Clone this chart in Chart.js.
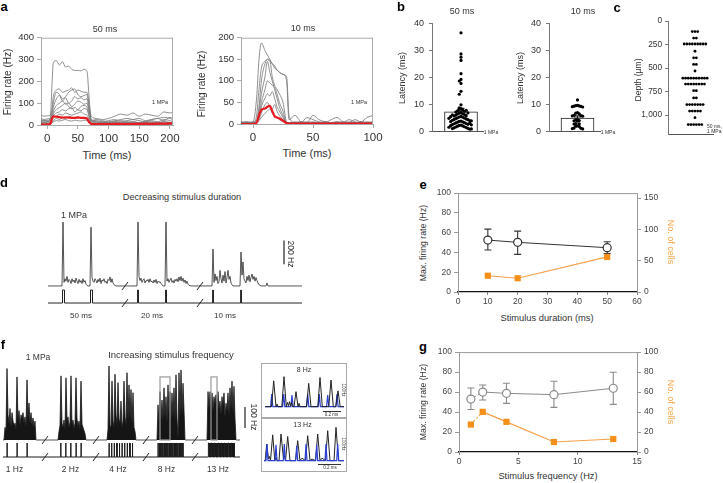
<!DOCTYPE html>
<html>
<head>
<meta charset="utf-8">
<script src="https://cdn.jsdelivr.net/npm/chart.js@4.4.1/dist/chart.umd.min.js"></script>
<style>
  html, body { margin: 0; padding: 0; background: #fff; }
  body { position: relative; width: 723px; height: 483px; overflow: hidden; font-family: "Liberation Sans", Arial, sans-serif; color: #333; }
  canvas { position: absolute; }
  .inset { position: absolute; border: 1.3px solid #a8a8a8; box-sizing: border-box; }
  .sbar { position: absolute; background: #333; height: 1px; }
</style>
</head>
<body>
<script>
// ---------- panel a: firing rate traces (Hz) ----------
const tA50 = [-10, -5, 0, 5, 8, 10, 15, 20, 25, 30, 35, 40, 45, 50, 55, 60, 65, 68, 72, 80, 90, 100, 110, 120, 130, 140, 150, 160, 170, 180, 190, 200, 205];
const cellsA50 = [
  [15, 18, 15, 30, 190, 285, 295, 275, 290, 265, 270, 255, 250, 250, 248, 255, 245, 140, 20, 15, 12, 10, 15, 10, 12, 15, 10, 8, 12, 10, 15, 10, 10],
  [45, 40, 42, 45, 80, 130, 160, 165, 150, 155, 160, 170, 150, 160, 155, 150, 150, 100, 40, 30, 25, 30, 40, 50, 45, 55, 40, 50, 45, 40, 60, 55, 60],
  [25, 20, 22, 25, 60, 100, 150, 140, 120, 130, 150, 160, 165, 140, 130, 135, 140, 90, 20, 15, 10, 12, 15, 20, 15, 10, 12, 15, 20, 15, 25, 20, 15],
  [30, 25, 28, 30, 50, 80, 120, 135, 110, 125, 100, 110, 130, 120, 125, 115, 120, 70, 25, 20, 15, 20, 25, 15, 20, 25, 30, 20, 25, 30, 20, 35, 30],
  [20, 22, 18, 20, 40, 60, 90, 100, 110, 95, 100, 85, 95, 110, 105, 95, 100, 60, 15, 10, 8, 10, 12, 8, 10, 15, 10, 12, 8, 10, 15, 12, 10],
  [15, 12, 15, 18, 30, 50, 70, 80, 90, 100, 85, 75, 80, 70, 85, 90, 80, 50, 10, 8, 12, 10, 8, 10, 12, 8, 10, 12, 15, 10, 8, 10, 12],
  [10, 12, 10, 12, 25, 40, 55, 60, 70, 65, 75, 80, 60, 70, 65, 75, 70, 40, 20, 25, 20, 15, 20, 25, 30, 25, 20, 15, 25, 30, 35, 30, 25],
  [8, 10, 8, 10, 20, 30, 40, 50, 45, 55, 50, 45, 50, 55, 60, 50, 45, 30, 5, 5, 8, 5, 3, 5, 8, 5, 3, 5, 8, 5, 3, 5, 5],
  [5, 5, 5, 8, 15, 20, 30, 25, 35, 30, 40, 35, 30, 38, 32, 30, 28, 15, 5, 3, 5, 8, 5, 3, 5, 3, 5, 8, 5, 3, 5, 8, 5],
  [3, 3, 5, 5, 10, 15, 20, 18, 22, 25, 20, 18, 22, 20, 18, 22, 20, 10, 3, 2, 3, 5, 3, 2, 3, 5, 3, 2, 3, 5, 3, 2, 3]
];
const meanA50 = [2, 2, 2, 5, 30, 40, 38, 36, 34, 35, 34, 33, 33, 34, 33, 33, 30, 15, 5, 4, 4, 4, 5, 5, 4, 5, 5, 6, 5, 6, 6, 7, 7];

const tA10 = [-10, -5, 0, 3, 5, 7, 10, 12, 14, 16, 18, 20, 22, 25, 28, 30, 35, 40, 45, 50, 55, 60, 65, 70, 75, 80, 85, 90, 95, 100];
const cellsA10 = [
  [5, 3, 5, 60, 150, 188, 170, 160, 150, 140, 130, 125, 120, 115, 100, 10, 20, 5, 3, 5, 3, 5, 3, 3, 5, 3, 3, 5, 3, 5],
  [3, 5, 3, 20, 80, 130, 145, 150, 145, 140, 135, 125, 120, 115, 110, 20, 3, 5, 3, 20, 10, 5, 3, 5, 3, 10, 5, 3, 5, 3],
  [3, 3, 5, 10, 40, 100, 140, 150, 148, 110, 90, 80, 70, 50, 5, 3, 5, 3, 15, 10, 5, 3, 10, 15, 5, 3, 10, 5, 15, 20],
  [5, 3, 3, 5, 30, 70, 110, 145, 120, 100, 80, 60, 40, 20, 3, 3, 3, 3, 3, 3, 3, 3, 3, 3, 3, 3, 3, 3, 3, 3],
  [3, 3, 3, 5, 20, 50, 80, 100, 95, 90, 85, 70, 50, 30, 3, 3, 3, 5, 3, 3, 3, 5, 3, 3, 3, 5, 3, 3, 3, 5],
  [3, 5, 3, 5, 15, 40, 60, 70, 65, 75, 60, 40, 30, 15, 3, 3, 3, 3, 5, 3, 3, 3, 3, 5, 3, 3, 3, 5, 3, 3],
  [3, 3, 3, 3, 10, 25, 45, 50, 40, 35, 45, 30, 20, 10, 3, 3, 3, 3, 3, 3, 3, 3, 3, 3, 3, 3, 3, 3, 3, 3],
  [2, 2, 2, 3, 8, 15, 25, 30, 35, 25, 20, 15, 10, 5, 2, 2, 2, 2, 2, 2, 2, 2, 2, 2, 2, 2, 2, 2, 2, 2]
];
const meanA10 = [0, 0, 0, 3, 20, 33, 36, 40, 42, 30, 18, 15, 13, 8, 2, 1, 1, 1, 1, 1, 1, 1, 1, 1, 1, 1, 1, 1, 1, 1];

// ---------- panel b: latency (ms) ----------
const lat50 = [36.5, 28.7, 27.5, 26.3, 21.4, 19.3, 18.7, 17.8, 14.9, 13.8, 9.9, 8.8, 8.5, 8.2, 8.0, 7.7, 7.5, 7.2, 7.0, 6.8,
  6.6, 6.5, 6.3, 6.1, 5.9, 5.8, 5.6, 5.4, 5.3, 5.1, 5.0, 4.8, 4.7, 4.5, 4.4, 4.2, 4.1, 3.9, 3.8, 3.6, 3.5, 3.3, 3.2, 3.0,
  2.9, 2.7, 2.6, 2.4, 2.3, 2.1, 2.0, 1.8, 1.7, 1.5, 1.4, 1.2, 1.1, 0.9, 6.9, 5.5, 4.0, 3.1, 2.2, 1.0, 7.9, 6.2, 4.9, 3.7, 2.5, 1.6];
const lat50Mean = 7.3, lat50Sem = 1.3;
const lat10 = [11.7, 9.7, 9.6, 9.5, 9.4, 9.3, 9.2, 9.1, 7.0, 6.8, 6.6, 6.0, 5.9, 5.8, 5.7, 4.4, 4.3, 4.1, 4.0, 3.9, 3.0, 2.9, 2.8, 2.1, 2.0, 1.9, 1.3, 1.2, 1.1, 1.0];
const lat10Mean = 5.0, lat10Sem = 0.8;

// ---------- panel c: recording depth (µm) ----------
const depthRows = [112, 181, 244, 321, 391, 461, 531, 607, 670, 740, 817, 887, 956, 1026, 1100];
const depthCounts = [3, 2, 9, 1, 2, 2, 1, 10, 8, 2, 2, 7, 5, 1, 6];
const depthTicks = [0, 250, 500, 750, 1000];

// ---------- panel d: example unit, decreasing duration ----------
const burstStartD = [15, 43, 90, 118, 165, 193];
const burstsD = [
  [533, 30, 60, 40, 80, 30, 55, 45, 20, 60, 35, 50, 25, 65, 40, 20, 55, 30, 45, 20, 60, 30, 45, 15, 5],
  [490, 70, 40, 30, 60, 45, 25, 55, 35, 65, 20, 50, 40, 60, 30, 40, 20, 55, 45, 75, 30, 60, 25, 10, 5],
  [533, 80, 45, 65, 30, 50, 60, 25, 45, 40, 55, 30, 60, 35, 40, 25, 50, 30, 55, 20, 40, 30, 35, 20, 10],
  [533, 40, 60, 30, 50, 65, 30, 45, 25, 55, 40, 60, 35, 75, 45, 80, 40, 65, 30, 50, 20, 40, 15, 5, 3],
  [308, 30, 100, 45, 80, 20, 35, 130, 60, 25, 90, 40, 120, 25, 70, 130, 55, 80, 25, 10],
  [283, 90, 200, 60, 40, 25, 80, 45, 90, 35, 70, 100, 55, 80, 40, 70, 45, 25, 10, 5, 0, 0, 0, 0, 0, 0, 25]
];
const stimOnD = [14.5, 42.5, 89.6, 117.6, 164.8, 192.8];
const stimDurD = [2, 2, 0.8, 0.8, 0.4, 0.4];
const breaksD = [77, 152];

// ---------- panel e ----------
const durE = [10, 20, 50];
const rateE = [52.5, 50.2, 44.8];
const rateLoE = [42.4, 38, 39];
const rateHiE = [63.6, 61.6, 50.8];
const cellsE = [26, 22, 56];

// ---------- panel f: example unit, increasing frequency ----------
const burstStartF = [5, 59, 108, 158, 208];
const burstsF = [
  [60, 40, 340, 120, 80, 150, 60, 130, 90, 70, 80, 50, 300, 90, 140, 70, 120, 100, 130, 80, 110, 60, 286, 100, 176, 80, 130, 70, 105, 60, 90],
  [40, 70, 305, 80, 60, 95, 50, 296, 90, 110, 60, 85, 305, 70, 95, 55, 80, 296, 100, 65, 90, 50, 280, 75, 60, 45, 30],
  [50, 352, 70, 60, 280, 90, 60, 313, 120, 70, 273, 100, 80, 185, 60, 90, 280, 110, 70, 320, 90, 262, 100, 240, 75, 225, 60, 40],
  [167, 80, 230, 100, 190, 90, 248, 110, 206, 85, 262, 120, 230, 95, 224, 110, 248, 90, 310, 100, 10, 320, 105, 333, 120, 270, 143],
  [230, 150, 230, 160, 224, 140, 206, 170, 215, 130, 230, 150, 185, 120, 206, 160, 224, 110, 175, 140, 224, 120, 248, 150, 280, 130, 255, 100]
];
const stimF = [7, 17, 27,
  60.7, 65.7, 70.7, 76, 81,
  109, 111.6, 114.2, 116.8, 119.4, 122, 124.6, 127.2, 129.8, 132.4,
  158, 159.3, 160.5, 161.8, 163, 164.3, 165.5, 166.8, 168, 169.3, 170.5, 171.8, 173, 174.3, 175.5, 176.8, 178, 179.3, 180.5, 181.8, 183,
  208, 208.8, 209.5, 210.3, 211.1, 211.8, 212.6, 213.4, 214.2, 214.9, 215.7, 216.5, 217.2, 218, 218.8, 219.5, 220.3, 221.1, 221.8,
  222.6, 223.4, 224.2, 224.9, 225.7, 226.5, 227.2, 228, 228.8, 229.5, 230.3, 231.1, 231.8, 232.6, 233.4, 234.2];
const stimDurF = 0.2;
const breaksF = [45, 96, 146, 195];
const windowsF = [[160, 170], [211, 217]];
const windowTopF = 300;

// insets (time in trace units, rate in Hz)
const i8BlackT = [2, 8.5, 10.7, 13, 14, 15, 18.8, 21, 23.3, 24.5, 25.5, 26.5, 27.5, 28.5, 29.5, 31, 33, 35, 36, 37, 43.5, 45.7, 48, 54.8, 57, 59.3, 65.8, 68, 70.3, 72.8, 75, 77.2, 81];
const i8BlackV = [0, 0, 155, 0, 15, 0, 0, 180, 0, 25, 5, 30, 5, 25, 0, 0, 90, 0, 20, 0, 0, 140, 0, 0, 175, 0, 0, 160, 0, 0, 95, 0, 0];
const i8BlueT = [2, 7.6, 8.7, 9.8, 19.6, 20.7, 21.8, 27.9, 29, 30.1, 43.6, 44.7, 45.8, 55.2, 56.3, 57.4, 63.6, 64.7, 65.8, 72.9, 74, 75.1, 81];
const i8BlueV = [0, 0, 75, 0, 0, 75, 0, 0, 70, 0, 0, 75, 0, 0, 75, 0, 0, 70, 0, 0, 75, 0, 0];
const i13BlackT = [1, 2.2, 3.7, 5.5, 6.5, 7.5, 9.7, 11.8, 13, 14, 16, 18, 20.5, 21.5, 22.5, 24.7, 27, 29, 32.5, 34.7, 37, 39, 42.5, 44.7, 47, 49, 52.5, 54.7, 57, 59, 62.5, 64.7, 67, 69, 71, 73, 75.5, 81];
const i13BlackV = [0, 0, 100, 10, 25, 0, 155, 0, 20, 0, 0, 160, 10, 30, 0, 145, 0, 0, 0, 120, 0, 15, 0, 150, 0, 10, 0, 160, 0, 15, 0, 180, 0, 0, 0, 200, 0, 0];
const i13BlueT = [1, 3, 4, 5, 12, 13, 14, 20.3, 21.3, 22.3, 32.7, 33.7, 34.7, 42, 43, 44, 52.7, 53.7, 54.7, 62, 63, 64, 73.7, 74.7, 75.7, 81];
const i13BlueV = [0, 0, 100, 0, 0, 95, 0, 0, 100, 0, 0, 90, 0, 0, 100, 0, 0, 95, 0, 0, 100, 0, 0, 100, 0, 0];

// ---------- panel g ----------
const freqG = [1, 2, 4, 8, 13];
const rateG = [53, 60, 58.7, 57.4, 63.8];
const rateLoG = [42.6, 52, 48.7, 44.7, 47.7];
const rateHiG = [64, 67, 68.8, 70.8, 79.9];
const cellsG = [27.5, 40.2, 30.2, 10, 13];

// ---------- colours ----------
const GREY_TRACE = 'rgba(125,125,125,0.85)';
const RED = '#e8191f';
const ORANGE = '#f5901c';
const ORANGE_TXT = '#f4a340';
const BLUE = '#2b3fd6';

Chart.defaults.font.family = '"Liberation Sans", Arial, sans-serif';
Chart.defaults.color = '#333';

// error bars, drawn under the markers
Chart.register({
  id: 'errbars',
  beforeDatasetsDraw(chart) {
    const ctx = chart.ctx;
    chart.data.datasets.forEach((ds, i) => {
      if (!ds.errHi) return;
      const meta = chart.getDatasetMeta(i);
      const sx = chart.scales[meta.xAxisID], sy = chart.scales[meta.yAxisID];
      const cap = ds.errCap || 3;
      ctx.save();
      ctx.strokeStyle = ds.errColor || '#333';
      ctx.lineWidth = 1.1;
      ds.data.forEach((p, j) => {
        const px = sx.getPixelForValue(p.x);
        const lo = sy.getPixelForValue(ds.errLo[j]), hi = sy.getPixelForValue(ds.errHi[j]);
        ctx.beginPath();
        ctx.moveTo(px, lo); ctx.lineTo(px, hi);
        ctx.moveTo(px - cap, lo); ctx.lineTo(px + cap, lo);
        ctx.moveTo(px - cap, hi); ctx.lineTo(px + cap, hi);
        ctx.stroke();
      });
      ctx.restore();
    });
  }
});

function framePlugin(color, sides) {
  return {
    id: 'frame',
    afterDraw(c) {
      const a = c.chartArea, x = c.ctx;
      x.save(); x.strokeStyle = color; x.lineWidth = 1; x.beginPath();
      if (sides.includes('t')) { x.moveTo(a.left, a.top + 0.5); x.lineTo(a.right, a.top + 0.5); }
      if (sides.includes('r')) { x.moveTo(a.right - 0.5, a.top); x.lineTo(a.right - 0.5, a.bottom); }
      x.stroke(); x.restore();
    }
  };
}

function breakPlugin(xs, yv) {
  return {
    id: 'breaks',
    afterDatasetsDraw(c) {
      const ctx = c.ctx, sx = c.scales.x, sy = c.scales.y;
      ctx.save(); ctx.strokeStyle = '#222'; ctx.lineWidth = 1;
      xs.forEach(b => {
        const px = sx.getPixelForValue(b), py = sy.getPixelForValue(yv);
        ctx.beginPath(); ctx.moveTo(px - 3, py + 4); ctx.lineTo(px + 3, py - 4); ctx.stroke();
      });
      ctx.restore();
    }
  };
}

function scaleBarPlugin(xv, y0, len) {
  return {
    id: 'scalebar',
    afterDatasetsDraw(c) {
      const ctx = c.ctx, px = c.scales.x.getPixelForValue(xv);
      ctx.save(); ctx.strokeStyle = '#222'; ctx.lineWidth = 1.2; ctx.beginPath();
      ctx.moveTo(px, c.scales.y.getPixelForValue(y0));
      ctx.lineTo(px, c.scales.y.getPixelForValue(y0 + len));
      ctx.stroke(); ctx.restore();
    }
  };
}

function windowPlugin(spans, top) {
  return {
    id: 'windows',
    afterDatasetsDraw(c) {
      const ctx = c.ctx, sx = c.scales.x, sy = c.scales.y;
      ctx.save(); ctx.strokeStyle = '#9a9a9a'; ctx.lineWidth = 1.2;
      spans.forEach(([a, b]) => {
        const x0 = sx.getPixelForValue(a), x1 = sx.getPixelForValue(b);
        const y0 = sy.getPixelForValue(0), y1 = sy.getPixelForValue(top);
        ctx.strokeRect(x0, y1, x1 - x0, y0 - y1);
      });
      ctx.restore();
    }
  };
}

// put a chart so that its plot area lands on plot = [left, top, right, bottom]
function mk(plot, m, cfg) {
  const [L, T, R, B] = plot;
  const cv = document.createElement('canvas');
  const w = R - L + m.l + m.r, h = B - T + m.t + m.b;
  cv.width = w; cv.height = h;
  cv.style.left = (L - m.l) + 'px';
  cv.style.top = (T - m.t) + 'px';
  document.body.appendChild(cv);
  const o = cfg.options = cfg.options || {};
  o.responsive = false; o.animation = false; o.events = [];
  o.layout = { autoPadding: false, padding: { top: m.t, left: 0, bottom: 0, right: 0 } };
  let hasRight = false;
  for (const [id, s] of Object.entries(o.scales)) {
    const pos = s.position || (id.startsWith('x') ? 'bottom' : 'left');
    s.position = pos;
    if (pos === 'right') hasRight = true;
    s.afterFit = sc => {
      if (pos === 'bottom') sc.height = m.b;
      else if (pos === 'left') sc.width = m.l;
      else if (pos === 'right') sc.width = m.r;
    };
  }
  if (!hasRight) o.layout.padding.right = m.r;
  o.plugins = Object.assign({ legend: { display: false }, tooltip: { enabled: false } }, o.plugins || {});
  return new Chart(cv.getContext('2d'), cfg);
}

function pts(xs, ys) { return xs.map((x, i) => ({ x, y: ys[i] })); }
function trace(xs, ys, color, width, extra) {
  return Object.assign({ data: pts(xs, ys), borderColor: color, borderWidth: width, pointRadius: 0, fill: false, cubicInterpolationMode: 'monotone' }, extra || {});
}
function swarm(vals, rowH, gap) {
  const seen = {};
  return vals.map(v => {
    const k = Math.round(v / rowH);
    const n = seen[k] = (seen[k] || 0) + 1;
    return { x: (n % 2 ? 1 : -1) * Math.floor(n / 2) * gap, y: v };
  });
}
function burstTrace(starts, bursts, x0, x1) {
  const p = [{ x: x0, y: 0 }];
  starts.forEach((s, i) => {
    p.push({ x: s - 1, y: 0 });
    bursts[i].forEach((v, j) => p.push({ x: s + j, y: v }));
    p.push({ x: s + bursts[i].length, y: 0 });
  });
  p.push({ x: x1, y: 0 });
  return p;
}
function pulseTrace(ons, durs, x0, x1) {
  const p = [{ x: x0, y: 0 }];
  ons.forEach((t, i) => {
    const d = Array.isArray(durs) ? durs[i] : durs;
    p.push({ x: t, y: 0 }, { x: t, y: 1 }, { x: t + d, y: 1 }, { x: t + d, y: 0 });
  });
  p.push({ x: x1, y: 0 });
  return p;
}
function txt(s, x, y, size, o) {
  o = o || {};
  const d = document.createElement('div');
  d.textContent = s;
  d.style.cssText = 'position:absolute;left:' + x + 'px;top:' + y + 'px;font-size:' + size + 'px;line-height:1;white-space:nowrap;' +
    'color:' + (o.color || '#333') + ';font-weight:' + (o.bold ? 'bold' : 'normal') + ';' +
    'transform:translate(' + (o.left ? '0' : '-50%') + ',-50%) rotate(' + (o.rot || 0) + 'deg)';
  document.body.appendChild(d);
}
const tickFont = s => ({ size: s });
const hidden = { display: false };

// ---------- a ----------
function panelA(plot, xs, cells, mean, xmin, xmax, ymax, ystep) {
  mk(plot, { l: 42, t: 8, r: 14, b: 22 }, {
    type: 'line',
    data: { datasets: [
      ...cells.map(c => trace(xs, c, GREY_TRACE, 1, { order: 1 })),
      trace(xs, mean, RED, 2.2, { order: 0 })
    ] },
    options: { scales: {
      x: { type: 'linear', min: xmin, max: xmax, ticks: { stepSize: 50, includeBounds: false, font: tickFont(11.5), padding: 3 },
           grid: { drawOnChartArea: false, tickLength: 4, color: '#aaa' }, border: { color: '#aaa' } },
      y: { min: 0, max: ymax, ticks: { stepSize: ystep, font: tickFont(9.5), padding: 3 },
           grid: { drawOnChartArea: false, tickLength: 4, color: '#aaa' }, border: { color: '#aaa' } }
    } },
    plugins: [framePlugin('#aaa', 'tr')]
  });
}
panelA([41, 37, 173, 125], tA50, cellsA50, meanA50, -10, 205, 400, 100);
panelA([241, 37, 373, 124], tA10, cellsA10, meanA10, -10, 100, 200, 50);

// ---------- b ----------
function panelB(plot, vals, mean, sem, xmin, xmax) {
  mk(plot, { l: 28, t: 8, r: 4, b: 7 }, {
    type: 'scatter',
    data: { datasets: [
      { type: 'bar', data: [{ x: 0, y: mean }], barThickness: 33, backgroundColor: '#fff', borderColor: '#222', borderWidth: 1,
        errLo: [mean], errHi: [mean + sem], errCap: 3.5, errColor: '#222', order: 2 },
      { data: swarm(vals, 1.6, 1.15), pointRadius: 1.6, pointBackgroundColor: '#000', pointBorderWidth: 0, order: 1 }
    ] },
    options: { scales: {
      x: { type: 'linear', min: xmin, max: xmax, ticks: hidden, grid: hidden, border: { color: '#555' } },
      y: { min: 0, max: 40, ticks: { stepSize: 10, font: tickFont(9), padding: 5 },
           grid: { drawOnChartArea: false, tickLength: 3, color: '#777' }, border: { color: '#777' } }
    } }
  });
}
panelB([432, 21, 483, 135], lat50, lat50Mean, lat50Sem, -10.83, 6.17);
panelB([549, 21, 600, 135], lat10, lat10Mean, lat10Sem, -10.5, 6.5);

// ---------- c ----------
const depthPts = [];
depthRows.forEach((d, i) => {
  for (let k = 0; k < depthCounts[i]; k++) depthPts.push({ x: k - (depthCounts[i] - 1) / 2, y: d });
});
mk([668, 21, 713, 135], { l: 30, t: 8, r: 8, b: 7 }, {
  type: 'scatter',
  data: { datasets: [{ data: depthPts, pointRadius: 1.4, pointBackgroundColor: '#000', pointBorderWidth: 0 }] },
  options: { scales: {
    x: { type: 'linear', min: -10, max: 6.67, ticks: hidden, grid: hidden, border: { color: '#555' } },
    y: { min: 0, max: 1200, reverse: true, afterBuildTicks: s => { s.ticks = depthTicks.map(v => ({ value: v })); },
         ticks: { font: tickFont(8.3), padding: 3, callback: v => v.toLocaleString('en-US') },
         grid: { drawOnChartArea: false, tickLength: 3, color: '#777' }, border: { color: '#777' } }
  } }
});

// ---------- d ----------
mk([48, 214, 302, 288], { l: 2, t: 2, r: 4, b: 2 }, {
  type: 'line',
  data: { datasets: [{ data: burstTrace(burstStartD, burstsD, 0, 254), borderColor: '#2a2a2a', borderWidth: 0.8, pointRadius: 0 }] },
  options: { scales: { x: { type: 'linear', min: 0, max: 254, display: false }, y: { min: -17, max: 600, display: false } } },
  plugins: [breakPlugin(breaksD, 0), scaleBarPlugin(236, 180, 200)]
});
mk([48, 288, 302, 306], { l: 2, t: 2, r: 4, b: 4 }, {
  type: 'line',
  data: { datasets: [{ data: pulseTrace(stimOnD, stimDurD, 0, 254), borderColor: '#222', borderWidth: 1, pointRadius: 0 }] },
  options: { scales: { x: { type: 'linear', min: 0, max: 254, display: false }, y: { min: -0.23, max: 1.154, display: false } } },
  plugins: [breakPlugin(breaksD, 0)]
});

// ---------- e / g ----------
function panelDual(plot, xs, rate, lo, hi, cells, xmax, xstep, y1max, y1step, dotted, rateColor) {
  const dash = dotted ? { borderDash: c => c.p0DataIndex === 0 ? [2, 2] : undefined } : {};
  mk(plot, { l: 26, t: 8, r: 24, b: 18 }, {
    type: 'line',
    data: { datasets: [
      { data: pts(xs, rate), errLo: lo, errHi: hi, errCap: 3.5, errColor: rateColor, borderColor: rateColor, borderWidth: 1,
        pointStyle: 'circle', pointRadius: 4, pointBackgroundColor: '#fff', pointBorderColor: rateColor, pointBorderWidth: 1.2,
        yAxisID: 'y', order: 0, segment: dash },
      { data: pts(xs, cells), borderColor: '#f5a04a', borderWidth: 1.2, pointStyle: 'rect', pointRadius: 4.4,
        pointBackgroundColor: ORANGE, pointBorderWidth: 0, yAxisID: 'y1', order: 1, segment: dash }
    ] },
    options: { scales: {
      x: { type: 'linear', min: 0, max: xmax, ticks: { stepSize: xstep, font: tickFont(8.5), padding: 2, color: '#444' },
           grid: { drawOnChartArea: false, tickLength: 3, color: '#888' }, border: { color: '#111', dash: [1.5, 2], width: 1.2 } },
      y: { position: 'left', min: 0, max: 100, ticks: { stepSize: 20, font: tickFont(8.5), padding: 3, color: '#444' },
           grid: { drawOnChartArea: false, tickLength: 4, color: '#999' }, border: { color: '#999' } },
      y1: { position: 'right', min: 0, max: y1max, ticks: { stepSize: y1step, includeBounds: false, font: tickFont(8.5), padding: 3, color: '#444' },
            grid: { drawOnChartArea: false, tickLength: 4, color: '#999' }, border: { color: '#999' } }
    } },
    plugins: [framePlugin('#999', 't')]
  });
}
panelDual([458, 193, 637, 292], durE, rateE, rateLoE, rateHiE, cellsE, 60, 10, 158, 50, false, '#333');
panelDual([459, 352, 637, 452], freqG, rateG, rateLoG, rateHiG, cellsG, 15, 5, 100, 20, true, '#8a8a8a');

// ---------- f ----------
mk([0, 362, 250, 442], { l: 0, t: 2, r: 4, b: 2 }, {
  type: 'line',
  data: { datasets: [{ data: burstTrace(burstStartF, burstsF, 3, 240), borderColor: '#151515', borderWidth: 0.8, pointRadius: 0,
    fill: 'origin', backgroundColor: '#151515',
    segment: { borderColor: c => (c.p0.parsed.y === 0 && c.p1.parsed.y === 0) ? '#8c8c8c' : undefined,
               borderWidth: c => (c.p0.parsed.y === 0 && c.p1.parsed.y === 0) ? 1.5 : undefined } }] },
  options: { scales: { x: { type: 'linear', min: 0, max: 250, display: false }, y: { min: -9.5, max: 371, display: false } } },
  plugins: [breakPlugin(breaksF, 0), windowPlugin(windowsF, windowTopF), scaleBarPlugin(245, 57, 100)]
});
mk([0, 441, 250, 460], { l: 0, t: 2, r: 4, b: 4 }, {
  type: 'line',
  data: { datasets: [{ data: pulseTrace(stimF, stimDurF, 3, 240), borderColor: '#1a1a1a', borderWidth: 1, pointRadius: 0 }] },
  options: { scales: { x: { type: 'linear', min: 0, max: 250, display: false }, y: { min: -0.214, max: 1.143, display: false } } },
  plugins: [breakPlugin(breaksF, 0)]
});

// insets
function inset(plot, ymin, ymax, bT, bV, uT, uV, blueOnTop) {
  mk(plot, { l: 0, t: 0, r: 0, b: 0 }, {
    type: 'line',
    data: { datasets: [
      { data: pts(bT, bV), borderColor: '#222', borderWidth: 1, pointRadius: 0, order: blueOnTop ? 1 : 0 },
      { data: pts(uT, uV), borderColor: BLUE, borderWidth: 1.2, pointRadius: 0, order: blueOnTop ? 0 : 1 }
    ] },
    options: { scales: { x: { type: 'linear', min: 0, max: 82, display: false }, y: { min: ymin, max: ymax, display: false } } }
  });
}
inset([263, 365, 345, 416], -56, 250, i8BlackT, i8BlackV, i8BlueT, i8BlueV, false);
inset([263, 420, 345, 470], -56, 244, i13BlackT, i13BlackV, i13BlueT, i13BlueV, true);
[[261, 363, 86, 55], [261, 418, 86, 54]].forEach(([l, t, w, h]) => {
  const d = document.createElement('div'); d.className = 'inset';
  d.style.cssText = 'left:' + l + 'px;top:' + t + 'px;width:' + w + 'px;height:' + h + 'px';
  document.body.appendChild(d);
});
[[323, 411, 18], [318, 464, 23]].forEach(([l, t, w]) => {
  const d = document.createElement('div'); d.className = 'sbar';
  d.style.cssText = 'left:' + l + 'px;top:' + t + 'px;width:' + w + 'px';
  document.body.appendChild(d);
});

// ---------- text ----------
const B = { bold: 1, color: '#000' };
txt('a', 4, 6, 13, B);
txt('50 ms', 105, 29, 9);
txt('10 ms', 303, 28, 9);
txt('Firing rate (Hz)', 8, 82, 10, { rot: -90 });
txt('Firing rate (Hz)', 202, 84, 10, { rot: -90 });
txt('Time (ms)', 107, 155, 11);
txt('Time (ms)', 307, 153, 11);
txt('1 MPa', 160, 103, 5.5);
txt('1 MPa', 359, 103, 5.5);

txt('b', 401, 6, 13, B);
txt('50 ms', 462, 11, 9);
txt('10 ms', 583, 11, 9);
txt('Latency (ms)', 402, 78, 9, { rot: -90 });
txt('Latency (ms)', 520, 78, 9, { rot: -90 });
txt('1 MPa', 491, 132, 5);
txt('1 MPa', 608, 132, 5);

txt('c', 617, 7, 13, B);
txt('Depth (µm)', 638, 80, 8.6, { rot: -90 });
txt('50 ms,', 707, 126, 5, { left: 1 });
txt('1 MPa', 707, 131, 5, { left: 1 });

txt('d', 4, 182, 13, B);
txt('Decreasing stimulus duration', 182, 198, 9.2);
txt('1 MPa', 74, 215, 9);
txt('200 Hz', 291, 254, 8.5, { rot: 90 });
txt('50 ms', 81, 316, 8);
txt('20 ms', 152, 316, 8);
txt('10 ms', 225, 316, 8);

txt('e', 423, 184, 13, B);
txt('Max. firing rate (Hz)', 423, 243, 8.7, { rot: -90 });
txt('No. of cells', 670, 242, 9, { rot: 90, color: ORANGE_TXT });
txt('Stimulus duration (ms)', 547, 319, 9.3);

txt('f', 3, 344, 13, B);
txt('1 MPa', 38, 357, 8.5);
txt('Increasing stimulus frequency', 171, 355, 9.5);
txt('100 Hz', 254, 417, 8.5, { rot: 90 });
txt('1 Hz', 14.5, 469, 8.5);
txt('2 Hz', 70.5, 469, 8.5);
txt('4 Hz', 118, 469, 8.5);
txt('8 Hz', 166.5, 469, 8.5);
txt('13 Hz', 218, 469, 8.5);
txt('8 Hz', 304, 369, 7);
txt('13 Hz', 302.5, 424, 7);
txt('100Hz', 343, 390, 4.5, { rot: 90 });
txt('0.2 ms', 331.5, 414.5, 4.5);
txt('100Hz', 343, 444, 4.5, { rot: 90 });
txt('0.2 ms', 330, 467.5, 4.5);

txt('g', 423, 346, 13, B);
txt('Max. firing rate (Hz)', 423, 402, 8.7, { rot: -90 });
txt('No. of cells', 670, 402, 9, { rot: 90, color: ORANGE_TXT });
txt('Stimulus frequency (Hz)', 548, 477, 9.3);
</script>
</body>
</html>
